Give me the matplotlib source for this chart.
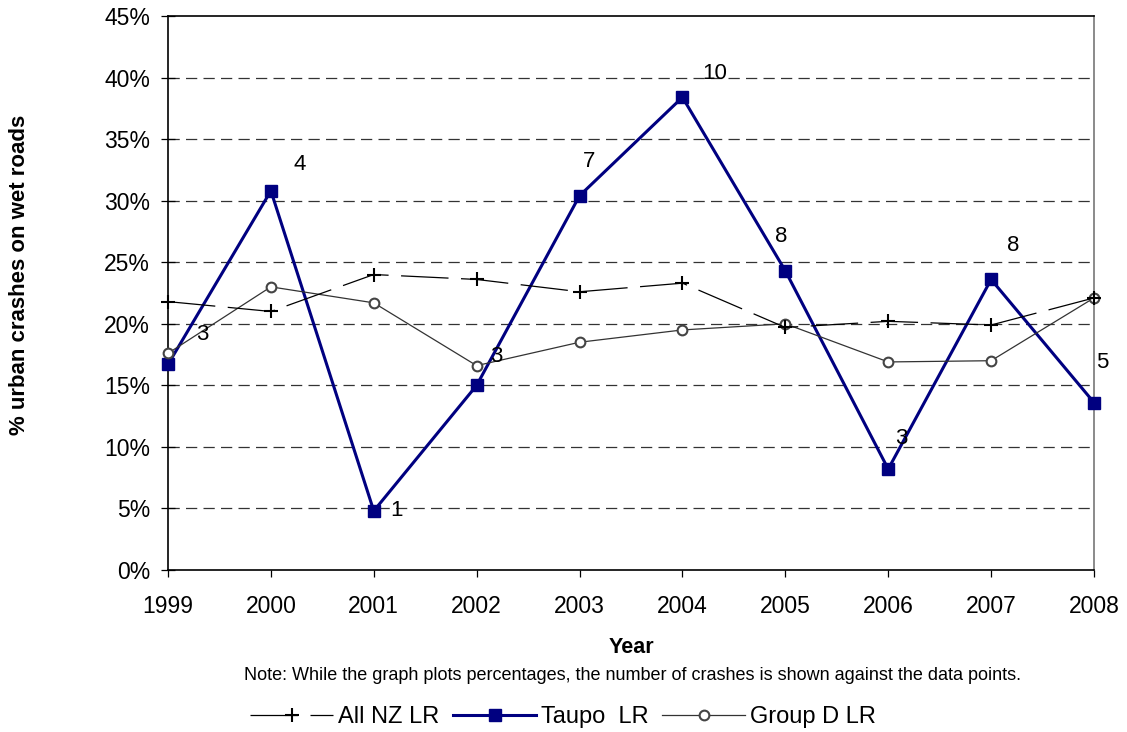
import numpy as np
import matplotlib.pyplot as plt
from matplotlib.ticker import PercentFormatter

plt.rcParams['font.family'] = ['Liberation Sans', 'DejaVu Sans']

years = [1999, 2000, 2001, 2002, 2003, 2004, 2005, 2006, 2007, 2008]
all_nz = [21.8, 21.0, 24.0, 23.6, 22.6, 23.3, 19.7, 20.2, 19.9, 22.1]
taupo = [16.7, 30.8, 4.8, 15.0, 30.4, 38.4, 24.3, 8.2, 23.6, 13.6]
group_d = [17.6, 23.0, 21.7, 16.6, 18.5, 19.5, 20.0, 16.9, 17.0, 22.1]
taupo_counts = [3, 4, 1, 3, 7, 10, 8, 3, 8, 5]

# label offsets in pixels (dx, dy up)
label_offsets = [(34, 30), (29, 26), (23, 0), (20, 29), (10, 34),
                 (32, 24), (-4, 34), (13, 31), (22, 34), (8, 40)]

fig = plt.figure(figsize=(11.27, 7.32), dpi=100)
ax = fig.add_axes([168/1127, 1 - 570/732, (1094-168)/1127, (570-16)/732])

ax.set_xlim(1999, 2008)
ax.set_ylim(0, 45)

for y in range(5, 45, 5):
    ax.axhline(y, color='#333333', linestyle=(0, (9, 5)), linewidth=0.9, zorder=1)

ax.plot(years, taupo, color='#000080', linewidth=2.2, marker='s', markersize=8.5,
        clip_on=False, zorder=3, label='Taupo  LR')
ax.plot(years, group_d, color='#333333', linewidth=0.9, marker='o', markersize=7,
        markerfacecolor='white', markeredgecolor='#444444', markeredgewidth=1.5,
        clip_on=False, zorder=4, label='Group D LR')
ax.plot(years, all_nz, color='black', linewidth=0.9, linestyle=(0, (38, 10)),
        marker='+', markersize=10, markeredgewidth=1.5, clip_on=False, zorder=5,
        label='All NZ LR')

for x, y, n, (dx, dy) in zip(years, taupo, taupo_counts, label_offsets):
    ax.annotate(str(n), (x, y), xytext=(dx * 0.72, dy * 0.72), textcoords='offset points',
                ha='center', va='center', fontsize=16, zorder=6)

ax.set_xticks(years)
ax.set_yticks(range(0, 50, 5))
ax.yaxis.set_major_formatter(PercentFormatter(decimals=0))
ax.tick_params(axis='y', direction='inout', length=10, width=0.9, labelsize=16.5, pad=8)
ax.tick_params(axis='x', direction='out', length=5, width=0.9, labelsize=16.5, pad=13)

for s in ['left', 'bottom', 'top']:
    ax.spines[s].set_color('black')
    ax.spines[s].set_linewidth(1.2)
ax.spines['right'].set_color('#777777')
ax.spines['right'].set_linewidth(1.2)

ax.set_ylabel('% urban crashes on wet roads', fontsize=16, fontweight='bold')
ax.yaxis.set_label_coords((30 - 168) / 926, (570 - 275) / 554)
ax.set_xlabel('Year', fontsize=15.5, fontweight='bold')
ax.xaxis.set_label_coords(0.5, (570 - 637) / 554)

fig.text(632/1127, 1 - 675/732,
         'Note: While the graph plots percentages, the number of crashes is shown against the data points.',
         ha='center', va='center', fontsize=13)

handles, labels = ax.get_legend_handles_labels()
order = [2, 0, 1]
fig.legend([handles[i] for i in order], [labels[i] for i in order], loc='center',
           bbox_to_anchor=(563/1127, 1 - 717/732), ncol=3, frameon=False, fontsize=17,
           handlelength=3.5, handletextpad=0.2, columnspacing=0.6)

fig.savefig('out.png', dpi=100)
